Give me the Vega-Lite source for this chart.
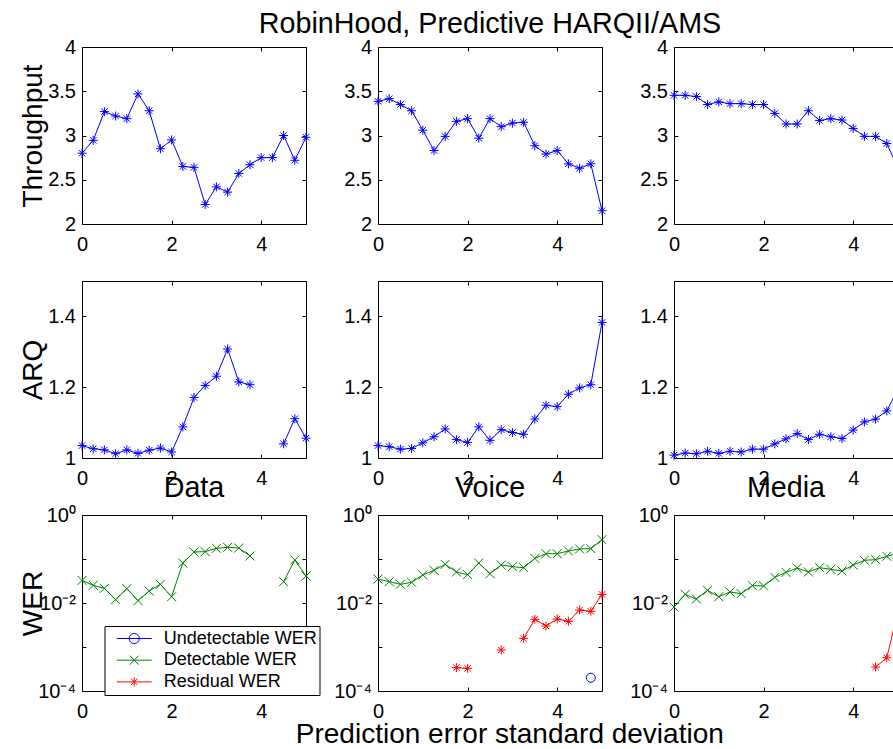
{
"$schema": "https://vega.github.io/schema/vega-lite/v6.json",
"background": "white",
"padding": {"left": 18, "top": 9, "right": 0, "bottom": 0},
"autosize": {"type": "pad"},
"datasets": {
"tp": [
{"panel":"Data","x":0,"y":2.8},{"panel":"Data","x":0.25,"y":2.945},{"panel":"Data","x":0.5,"y":3.27},{"panel":"Data","x":0.75,"y":3.22},{"panel":"Data","x":1,"y":3.19},{"panel":"Data","x":1.25,"y":3.47},{"panel":"Data","x":1.5,"y":3.28},{"panel":"Data","x":1.75,"y":2.85},{"panel":"Data","x":2,"y":2.95},{"panel":"Data","x":2.25,"y":2.65},{"panel":"Data","x":2.5,"y":2.64},{"panel":"Data","x":2.75,"y":2.22},{"panel":"Data","x":3,"y":2.42},{"panel":"Data","x":3.25,"y":2.36},{"panel":"Data","x":3.5,"y":2.57},{"panel":"Data","x":3.75,"y":2.67},{"panel":"Data","x":4,"y":2.75},{"panel":"Data","x":4.25,"y":2.75},{"panel":"Data","x":4.5,"y":3.0},{"panel":"Data","x":4.75,"y":2.72},{"panel":"Data","x":5,"y":2.98},
{"panel":"Voice","x":0,"y":3.386},{"panel":"Voice","x":0.25,"y":3.416},{"panel":"Voice","x":0.5,"y":3.35},{"panel":"Voice","x":0.75,"y":3.28},{"panel":"Voice","x":1,"y":3.06},{"panel":"Voice","x":1.25,"y":2.83},{"panel":"Voice","x":1.5,"y":2.99},{"panel":"Voice","x":1.75,"y":3.16},{"panel":"Voice","x":2,"y":3.19},{"panel":"Voice","x":2.25,"y":2.97},{"panel":"Voice","x":2.5,"y":3.19},{"panel":"Voice","x":2.75,"y":3.1},{"panel":"Voice","x":3,"y":3.14},{"panel":"Voice","x":3.25,"y":3.15},{"panel":"Voice","x":3.5,"y":2.885},{"panel":"Voice","x":3.75,"y":2.79},{"panel":"Voice","x":4,"y":2.83},{"panel":"Voice","x":4.25,"y":2.68},{"panel":"Voice","x":4.5,"y":2.63},{"panel":"Voice","x":4.75,"y":2.68},{"panel":"Voice","x":5,"y":2.15},
{"panel":"Media","x":0,"y":3.454},{"panel":"Media","x":0.25,"y":3.454},{"panel":"Media","x":0.5,"y":3.44},{"panel":"Media","x":0.75,"y":3.35},{"panel":"Media","x":1,"y":3.38},{"panel":"Media","x":1.25,"y":3.36},{"panel":"Media","x":1.5,"y":3.36},{"panel":"Media","x":1.75,"y":3.35},{"panel":"Media","x":2,"y":3.35},{"panel":"Media","x":2.25,"y":3.25},{"panel":"Media","x":2.5,"y":3.13},{"panel":"Media","x":2.75,"y":3.13},{"panel":"Media","x":3,"y":3.28},{"panel":"Media","x":3.25,"y":3.17},{"panel":"Media","x":3.5,"y":3.19},{"panel":"Media","x":3.75,"y":3.175},{"panel":"Media","x":4,"y":3.08},{"panel":"Media","x":4.25,"y":2.99},{"panel":"Media","x":4.5,"y":2.99},{"panel":"Media","x":4.75,"y":2.91},{"panel":"Media","x":5,"y":2.63}
],
"arq": [
{"panel":"Data","x":0,"y":1.035},{"panel":"Data","x":0.25,"y":1.026},{"panel":"Data","x":0.5,"y":1.023},{"panel":"Data","x":0.75,"y":1.012},{"panel":"Data","x":1,"y":1.023},{"panel":"Data","x":1.25,"y":1.013},{"panel":"Data","x":1.5,"y":1.022},{"panel":"Data","x":1.75,"y":1.028},{"panel":"Data","x":2,"y":1.017},{"panel":"Data","x":2.25,"y":1.088},{"panel":"Data","x":2.5,"y":1.171},{"panel":"Data","x":2.75,"y":1.205},{"panel":"Data","x":3,"y":1.231},{"panel":"Data","x":3.25,"y":1.308},{"panel":"Data","x":3.5,"y":1.215},{"panel":"Data","x":3.75,"y":1.207},{"panel":"Data","x":4,"y":null},{"panel":"Data","x":4.25,"y":null},{"panel":"Data","x":4.5,"y":1.04},{"panel":"Data","x":4.75,"y":1.111},{"panel":"Data","x":5,"y":1.056},
{"panel":"Voice","x":0,"y":1.035},{"panel":"Voice","x":0.25,"y":1.032},{"panel":"Voice","x":0.5,"y":1.025},{"panel":"Voice","x":0.75,"y":1.027},{"panel":"Voice","x":1,"y":1.043},{"panel":"Voice","x":1.25,"y":1.06},{"panel":"Voice","x":1.5,"y":1.082},{"panel":"Voice","x":1.75,"y":1.052},{"panel":"Voice","x":2,"y":1.044},{"panel":"Voice","x":2.25,"y":1.088},{"panel":"Voice","x":2.5,"y":1.05},{"panel":"Voice","x":2.75,"y":1.08},{"panel":"Voice","x":3,"y":1.072},{"panel":"Voice","x":3.25,"y":1.067},{"panel":"Voice","x":3.5,"y":1.11},{"panel":"Voice","x":3.75,"y":1.149},{"panel":"Voice","x":4,"y":1.145},{"panel":"Voice","x":4.25,"y":1.18},{"panel":"Voice","x":4.5,"y":1.198},{"panel":"Voice","x":4.75,"y":1.207},{"panel":"Voice","x":5,"y":1.383},
{"panel":"Media","x":0,"y":1.008},{"panel":"Media","x":0.25,"y":1.014},{"panel":"Media","x":0.5,"y":1.012},{"panel":"Media","x":0.75,"y":1.019},{"panel":"Media","x":1,"y":1.013},{"panel":"Media","x":1.25,"y":1.019},{"panel":"Media","x":1.5,"y":1.017},{"panel":"Media","x":1.75,"y":1.025},{"panel":"Media","x":2,"y":1.025},{"panel":"Media","x":2.25,"y":1.04},{"panel":"Media","x":2.5,"y":1.054},{"panel":"Media","x":2.75,"y":1.069},{"panel":"Media","x":3,"y":1.052},{"panel":"Media","x":3.25,"y":1.067},{"panel":"Media","x":3.5,"y":1.06},{"panel":"Media","x":3.75,"y":1.055},{"panel":"Media","x":4,"y":1.079},{"panel":"Media","x":4.25,"y":1.102},{"panel":"Media","x":4.5,"y":1.11},{"panel":"Media","x":4.75,"y":1.133},{"panel":"Media","x":5,"y":1.195}
],
"wer": [
{"panel":"Data","series":"Detectable WER","x":0,"y":0.0327},{"panel":"Data","series":"Detectable WER","x":0.25,"y":0.0252},{"panel":"Data","series":"Detectable WER","x":0.5,"y":0.0216},{"panel":"Data","series":"Detectable WER","x":0.75,"y":0.0119},{"panel":"Data","series":"Detectable WER","x":1,"y":0.0212},{"panel":"Data","series":"Detectable WER","x":1.25,"y":0.0113},{"panel":"Data","series":"Detectable WER","x":1.5,"y":0.0187},{"panel":"Data","series":"Detectable WER","x":1.75,"y":0.0266},{"panel":"Data","series":"Detectable WER","x":2,"y":0.0139},{"panel":"Data","series":"Detectable WER","x":2.25,"y":0.081},{"panel":"Data","series":"Detectable WER","x":2.5,"y":0.144},{"panel":"Data","series":"Detectable WER","x":2.75,"y":0.147},{"panel":"Data","series":"Detectable WER","x":3,"y":0.175},{"panel":"Data","series":"Detectable WER","x":3.25,"y":0.184},{"panel":"Data","series":"Detectable WER","x":3.5,"y":0.178},{"panel":"Data","series":"Detectable WER","x":3.75,"y":0.117},{"panel":"Data","series":"Detectable WER","x":4,"y":null},{"panel":"Data","series":"Detectable WER","x":4.25,"y":null},{"panel":"Data","series":"Detectable WER","x":4.5,"y":0.0305},{"panel":"Data","series":"Detectable WER","x":4.75,"y":0.095},{"panel":"Data","series":"Detectable WER","x":5,"y":0.041},
{"panel":"Voice","series":"Detectable WER","x":0,"y":0.0351},{"panel":"Voice","series":"Detectable WER","x":0.25,"y":0.0305},{"panel":"Voice","series":"Detectable WER","x":0.5,"y":0.0266},{"panel":"Voice","series":"Detectable WER","x":0.75,"y":0.0295},{"panel":"Voice","series":"Detectable WER","x":1,"y":0.0433},{"panel":"Voice","series":"Detectable WER","x":1.25,"y":0.0552},{"panel":"Voice","series":"Detectable WER","x":1.5,"y":0.0756},{"panel":"Voice","series":"Detectable WER","x":1.75,"y":0.0507},{"panel":"Voice","series":"Detectable WER","x":2,"y":0.0441},{"panel":"Voice","series":"Detectable WER","x":2.25,"y":0.081},{"panel":"Voice","series":"Detectable WER","x":2.5,"y":0.0464},{"panel":"Voice","series":"Detectable WER","x":2.75,"y":0.073},{"panel":"Voice","series":"Detectable WER","x":3,"y":0.067},{"panel":"Voice","series":"Detectable WER","x":3.25,"y":0.0635},{"panel":"Voice","series":"Detectable WER","x":3.5,"y":0.1035},{"panel":"Voice","series":"Detectable WER","x":3.75,"y":0.132},{"panel":"Voice","series":"Detectable WER","x":4,"y":0.132},{"panel":"Voice","series":"Detectable WER","x":4.25,"y":0.152},{"panel":"Voice","series":"Detectable WER","x":4.5,"y":0.169},{"panel":"Voice","series":"Detectable WER","x":4.75,"y":0.172},{"panel":"Voice","series":"Detectable WER","x":5,"y":0.275},
{"panel":"Voice","series":"Residual WER","x":1.75,"y":0.000339},{"panel":"Voice","series":"Residual WER","x":2,"y":0.000327},{"panel":"Voice","series":"Residual WER","x":2.25,"y":null},{"panel":"Voice","series":"Residual WER","x":2.75,"y":0.000855},{"panel":"Voice","series":"Residual WER","x":3,"y":null},{"panel":"Voice","series":"Residual WER","x":3.25,"y":0.00157},{"panel":"Voice","series":"Residual WER","x":3.5,"y":0.00425},{"panel":"Voice","series":"Residual WER","x":3.75,"y":0.003},{"panel":"Voice","series":"Residual WER","x":4,"y":0.00433},{"panel":"Voice","series":"Residual WER","x":4.25,"y":0.00383},{"panel":"Voice","series":"Residual WER","x":4.5,"y":0.00693},{"panel":"Voice","series":"Residual WER","x":4.75,"y":0.00647},{"panel":"Voice","series":"Residual WER","x":5,"y":0.0157},
{"panel":"Voice","series":"Undetectable WER","x":4.75,"y":0.0002},
{"panel":"Media","series":"Detectable WER","x":0,"y":0.0081},{"panel":"Media","series":"Detectable WER","x":0.25,"y":0.0157},{"panel":"Media","series":"Detectable WER","x":0.5,"y":0.0123},{"panel":"Media","series":"Detectable WER","x":0.75,"y":0.0194},{"panel":"Media","series":"Detectable WER","x":1,"y":0.0139},{"panel":"Media","series":"Detectable WER","x":1.25,"y":0.0178},{"panel":"Media","series":"Detectable WER","x":1.5,"y":0.0163},{"panel":"Media","series":"Detectable WER","x":1.75,"y":0.0248},{"panel":"Media","series":"Detectable WER","x":2,"y":0.0243},{"panel":"Media","series":"Detectable WER","x":2.25,"y":0.0383},{"panel":"Media","series":"Detectable WER","x":2.5,"y":0.0498},{"panel":"Media","series":"Detectable WER","x":2.75,"y":0.0624},{"panel":"Media","series":"Detectable WER","x":3,"y":0.0507},{"panel":"Media","series":"Detectable WER","x":3.25,"y":0.0635},{"panel":"Media","series":"Detectable WER","x":3.5,"y":0.0582},{"panel":"Media","series":"Detectable WER","x":3.75,"y":0.0533},{"panel":"Media","series":"Detectable WER","x":4,"y":0.073},{"panel":"Media","series":"Detectable WER","x":4.25,"y":0.0933},{"panel":"Media","series":"Detectable WER","x":4.5,"y":0.0966},{"panel":"Media","series":"Detectable WER","x":4.75,"y":0.115},{"panel":"Media","series":"Detectable WER","x":5,"y":0.135},
{"panel":"Media","series":"Residual WER","x":4.5,"y":0.00035},{"panel":"Media","series":"Residual WER","x":4.75,"y":0.00057},{"panel":"Media","series":"Residual WER","x":5,"y":0.0066}
]
},
"columns": 3,
"spacing": {"row": 57, "column": 72},
"bounds": "flush",
"concat": [
{"width": 224, "height": 177, "data": {"name": "tp"}, "transform": [{"filter": "datum.panel === 'Data'"}],
 "layer": [
  {"mark": {"type": "line", "color": "#0000ff", "strokeWidth": 1, "invalid": "break-paths-filter-domains"},
   "encoding": {"x": {"field": "x", "type": "quantitative", "scale": {"domain": [0, 5], "nice": false, "zero": false}, "axis": {"orient": "bottom", "values": [0, 2, 4], "format": "~g", "title": null}},
                "y": {"field": "y", "type": "quantitative", "scale": {"domain": [2, 4], "nice": false, "zero": false}, "axis": {"orient": "left", "values": [2, 2.5, 3, 3.5, 4], "format": "~g", "title": "Throughput", "titleX": -40.7, "titleBaseline": "alphabetic"}}}},
  {"mark": {"type": "point", "shape": "M-1,0L1,0M0,-1L0,1M-0.707,-0.707L0.707,0.707M-0.707,0.707L0.707,-0.707", "size": 81, "filled": false, "color": "#0000ff", "strokeWidth": 1, "opacity": 1},
   "encoding": {"x": {"field": "x", "type": "quantitative", "scale": {"domain": [0, 5], "nice": false, "zero": false}, "axis": {"orient": "top", "values": [0, 2, 4], "labels": false, "title": null}},
                "y": {"field": "y", "type": "quantitative", "scale": {"domain": [2, 4], "nice": false, "zero": false}, "axis": {"orient": "right", "values": [2, 2.5, 3, 3.5, 4], "labels": false, "title": null}}}}
 ],
 "resolve": {"axis": {"x": "independent", "y": "independent"}}},
{"width": 224, "height": 177, "data": {"name": "tp"}, "transform": [{"filter": "datum.panel === 'Voice'"}],
 "title": {"text": "RobinHood, Predictive HARQII/AMS", "offset": -1.5},
 "layer": [
  {"mark": {"type": "line", "color": "#0000ff", "strokeWidth": 1, "invalid": "break-paths-filter-domains"},
   "encoding": {"x": {"field": "x", "type": "quantitative", "scale": {"domain": [0, 5], "nice": false, "zero": false}, "axis": {"orient": "bottom", "values": [0, 2, 4], "format": "~g", "title": null}},
                "y": {"field": "y", "type": "quantitative", "scale": {"domain": [2, 4], "nice": false, "zero": false}, "axis": {"orient": "left", "values": [2, 2.5, 3, 3.5, 4], "format": "~g", "title": null}}}},
  {"mark": {"type": "point", "shape": "M-1,0L1,0M0,-1L0,1M-0.707,-0.707L0.707,0.707M-0.707,0.707L0.707,-0.707", "size": 81, "filled": false, "color": "#0000ff", "strokeWidth": 1, "opacity": 1},
   "encoding": {"x": {"field": "x", "type": "quantitative", "scale": {"domain": [0, 5], "nice": false, "zero": false}, "axis": {"orient": "top", "values": [0, 2, 4], "labels": false, "title": null}},
                "y": {"field": "y", "type": "quantitative", "scale": {"domain": [2, 4], "nice": false, "zero": false}, "axis": {"orient": "right", "values": [2, 2.5, 3, 3.5, 4], "labels": false, "title": null}}}}
 ],
 "resolve": {"axis": {"x": "independent", "y": "independent"}}},
{"width": 224, "height": 177, "data": {"name": "tp"}, "transform": [{"filter": "datum.panel === 'Media'"}],
 "layer": [
  {"mark": {"type": "line", "color": "#0000ff", "strokeWidth": 1, "invalid": "break-paths-filter-domains"},
   "encoding": {"x": {"field": "x", "type": "quantitative", "scale": {"domain": [0, 5], "nice": false, "zero": false}, "axis": {"orient": "bottom", "values": [0, 2, 4], "format": "~g", "title": null}},
                "y": {"field": "y", "type": "quantitative", "scale": {"domain": [2, 4], "nice": false, "zero": false}, "axis": {"orient": "left", "values": [2, 2.5, 3, 3.5, 4], "format": "~g", "title": null}}}},
  {"mark": {"type": "point", "shape": "M-1,0L1,0M0,-1L0,1M-0.707,-0.707L0.707,0.707M-0.707,0.707L0.707,-0.707", "size": 81, "filled": false, "color": "#0000ff", "strokeWidth": 1, "opacity": 1},
   "encoding": {"x": {"field": "x", "type": "quantitative", "scale": {"domain": [0, 5], "nice": false, "zero": false}, "axis": {"orient": "top", "values": [0, 2, 4], "labels": false, "title": null}},
                "y": {"field": "y", "type": "quantitative", "scale": {"domain": [2, 4], "nice": false, "zero": false}, "axis": {"orient": "right", "values": [2, 2.5, 3, 3.5, 4], "labels": false, "title": null}}}}
 ],
 "resolve": {"axis": {"x": "independent", "y": "independent"}}},
{"width": 224, "height": 177, "data": {"name": "arq"}, "transform": [{"filter": "datum.panel === 'Data'"}],
 "layer": [
  {"mark": {"type": "line", "color": "#0000ff", "strokeWidth": 1, "invalid": "break-paths-filter-domains"},
   "encoding": {"x": {"field": "x", "type": "quantitative", "scale": {"domain": [0, 5], "nice": false, "zero": false}, "axis": {"orient": "bottom", "values": [0, 2, 4], "format": "~g", "title": null}},
                "y": {"field": "y", "type": "quantitative", "scale": {"domain": [1, 1.5], "nice": false, "zero": false}, "axis": {"orient": "left", "values": [1, 1.2, 1.4], "format": "~g", "title": "ARQ", "titleX": -40.7, "titleBaseline": "alphabetic"}}}},
  {"mark": {"type": "point", "shape": "M-1,0L1,0M0,-1L0,1M-0.707,-0.707L0.707,0.707M-0.707,0.707L0.707,-0.707", "size": 81, "filled": false, "color": "#0000ff", "strokeWidth": 1, "opacity": 1},
   "encoding": {"x": {"field": "x", "type": "quantitative", "scale": {"domain": [0, 5], "nice": false, "zero": false}, "axis": {"orient": "top", "values": [0, 2, 4], "labels": false, "title": null}},
                "y": {"field": "y", "type": "quantitative", "scale": {"domain": [1, 1.5], "nice": false, "zero": false}, "axis": {"orient": "right", "values": [1, 1.2, 1.4], "labels": false, "title": null}}}}
 ],
 "resolve": {"axis": {"x": "independent", "y": "independent"}}},
{"width": 224, "height": 177, "data": {"name": "arq"}, "transform": [{"filter": "datum.panel === 'Voice'"}],
 "layer": [
  {"mark": {"type": "line", "color": "#0000ff", "strokeWidth": 1, "invalid": "break-paths-filter-domains"},
   "encoding": {"x": {"field": "x", "type": "quantitative", "scale": {"domain": [0, 5], "nice": false, "zero": false}, "axis": {"orient": "bottom", "values": [0, 2, 4], "format": "~g", "title": null}},
                "y": {"field": "y", "type": "quantitative", "scale": {"domain": [1, 1.5], "nice": false, "zero": false}, "axis": {"orient": "left", "values": [1, 1.2, 1.4], "format": "~g", "title": null}}}},
  {"mark": {"type": "point", "shape": "M-1,0L1,0M0,-1L0,1M-0.707,-0.707L0.707,0.707M-0.707,0.707L0.707,-0.707", "size": 81, "filled": false, "color": "#0000ff", "strokeWidth": 1, "opacity": 1},
   "encoding": {"x": {"field": "x", "type": "quantitative", "scale": {"domain": [0, 5], "nice": false, "zero": false}, "axis": {"orient": "top", "values": [0, 2, 4], "labels": false, "title": null}},
                "y": {"field": "y", "type": "quantitative", "scale": {"domain": [1, 1.5], "nice": false, "zero": false}, "axis": {"orient": "right", "values": [1, 1.2, 1.4], "labels": false, "title": null}}}}
 ],
 "resolve": {"axis": {"x": "independent", "y": "independent"}}},
{"width": 224, "height": 177, "data": {"name": "arq"}, "transform": [{"filter": "datum.panel === 'Media'"}],
 "layer": [
  {"mark": {"type": "line", "color": "#0000ff", "strokeWidth": 1, "invalid": "break-paths-filter-domains"},
   "encoding": {"x": {"field": "x", "type": "quantitative", "scale": {"domain": [0, 5], "nice": false, "zero": false}, "axis": {"orient": "bottom", "values": [0, 2, 4], "format": "~g", "title": null}},
                "y": {"field": "y", "type": "quantitative", "scale": {"domain": [1, 1.5], "nice": false, "zero": false}, "axis": {"orient": "left", "values": [1, 1.2, 1.4], "format": "~g", "title": null}}}},
  {"mark": {"type": "point", "shape": "M-1,0L1,0M0,-1L0,1M-0.707,-0.707L0.707,0.707M-0.707,0.707L0.707,-0.707", "size": 81, "filled": false, "color": "#0000ff", "strokeWidth": 1, "opacity": 1},
   "encoding": {"x": {"field": "x", "type": "quantitative", "scale": {"domain": [0, 5], "nice": false, "zero": false}, "axis": {"orient": "top", "values": [0, 2, 4], "labels": false, "title": null}},
                "y": {"field": "y", "type": "quantitative", "scale": {"domain": [1, 1.5], "nice": false, "zero": false}, "axis": {"orient": "right", "values": [1, 1.2, 1.4], "labels": false, "title": null}}}}
 ],
 "resolve": {"axis": {"x": "independent", "y": "independent"}}},
{"width": 224, "height": 176, "data": {"name": "wer"}, "transform": [{"filter": "datum.panel === 'Data'"}],
 "title": {"text": "Data", "offset": 2.1},
 "layer": [
  {"mark": {"type": "line", "strokeWidth": 1, "invalid": "break-paths-filter-domains"},
   "encoding": {"x": {"field": "x", "type": "quantitative", "scale": {"domain": [0, 5], "nice": false, "zero": false}, "axis": {"orient": "bottom", "values": [0, 2, 4], "format": "~g", "title": null}},
                "y": {"field": "y", "type": "quantitative", "scale": {"type": "log", "domain": [0.0001, 1], "nice": false}, "axis": {"orient": "left", "values": [0.0001, 0.001, 0.01, 0.1, 1], "labelExpr": "datum.value > 0.5 ? '10⁰' : (datum.value > 0.005 && datum.value < 0.02) ? '10⁻²' : datum.value < 0.0002 ? '10⁻⁴' : ''", "title": "WER", "titleX": -40.7, "titleBaseline": "alphabetic"}},
                "color": {"field": "series", "type": "nominal", "scale": {"domain": ["Undetectable WER", "Detectable WER", "Residual WER"], "range": ["#0000ff", "#008000", "#ff0000"]}, "legend": null}}},
  {"mark": {"type": "point", "size": 81, "filled": false, "strokeWidth": 1, "opacity": 1},
   "encoding": {"x": {"field": "x", "type": "quantitative", "scale": {"domain": [0, 5], "nice": false, "zero": false}, "axis": {"orient": "top", "values": [0, 2, 4], "labels": false, "title": null}},
                "y": {"field": "y", "type": "quantitative", "scale": {"type": "log", "domain": [0.0001, 1], "nice": false}, "axis": {"orient": "right", "values": [0.0001, 0.001, 0.01, 0.1, 1], "labels": false, "title": null}},
                "color": {"field": "series", "type": "nominal", "scale": {"domain": ["Undetectable WER", "Detectable WER", "Residual WER"], "range": ["#0000ff", "#008000", "#ff0000"]}, "legend": null},
                "shape": {"field": "series", "type": "nominal", "scale": {"domain": ["Undetectable WER", "Detectable WER", "Residual WER"], "range": ["circle", "M-1,-1L1,1M-1,1L1,-1", "M-1,0L1,0M0,-1L0,1M-0.707,-0.707L0.707,0.707M-0.707,0.707L0.707,-0.707"]}, "legend": null}}},
  {"mark": {"type": "point", "filled": false, "strokeWidth": 1, "opacity": 0},
   "encoding": {"x": {"field": "x", "type": "quantitative", "scale": {"domain": [0, 5], "nice": false, "zero": false}, "axis": null},
                "y": {"field": "y", "type": "quantitative", "scale": {"type": "log", "domain": [0.0001, 1], "nice": false}, "axis": null},
                "color": {"field": "series", "type": "nominal", "scale": {"domain": ["Undetectable WER", "Detectable WER", "Residual WER"], "range": ["#0000ff", "#008000", "#ff0000"]},
                          "legend": {"title": null, "orient": "none", "legendX": 22.5, "legendY": 111, "padding": 2, "symbolOffset": 18.2, "labelOffset": 20, "clipHeight": 21, "rowPadding": 0.7, "symbolSize": 324, "symbolStrokeWidth": 1, "symbolOpacity": 1, "labelFontSize": 18, "labelFont": "Liberation Sans", "labelColor": "black", "labelLimit": 400, "strokeColor": "black", "fillColor": "white"}},
                "shape": {"field": "series", "type": "nominal", "scale": {"domain": ["Undetectable WER", "Detectable WER", "Residual WER"], "range": ["M-1.944,0L1.944,0M0.567,0A0.567,0.567,0,1,1,-0.567,0A0.567,0.567,0,1,1,0.567,0", "M-1.944,0L1.944,0M-0.5,-0.5L0.5,0.5M-0.5,0.5L0.5,-0.5", "M-1.944,0L1.944,0M0,-0.5L0,0.5M-0.354,-0.354L0.354,0.354M-0.354,0.354L0.354,-0.354"]},
                          "legend": {"title": null, "orient": "none", "legendX": 22.5, "legendY": 111, "padding": 2, "symbolOffset": 18.2, "labelOffset": 20, "clipHeight": 21, "rowPadding": 0.7, "symbolSize": 324, "symbolStrokeWidth": 1, "symbolOpacity": 1, "labelFontSize": 18, "labelFont": "Liberation Sans", "labelColor": "black", "labelLimit": 400, "strokeColor": "black", "fillColor": "white"}}}}
 ],
 "resolve": {"axis": {"x": "independent", "y": "independent"}, "scale": {"color": "independent", "shape": "independent"}}},
{"width": 224, "height": 176, "data": {"name": "wer"}, "transform": [{"filter": "datum.panel === 'Voice'"}],
 "title": {"text": "Voice", "offset": 2.1},
 "layer": [
  {"mark": {"type": "line", "strokeWidth": 1, "invalid": "break-paths-filter-domains"},
   "encoding": {"x": {"field": "x", "type": "quantitative", "scale": {"domain": [0, 5], "nice": false, "zero": false}, "axis": {"orient": "bottom", "values": [0, 2, 4], "format": "~g", "title": "Prediction error standard deviation", "titleX": 131.3, "titleY": 51, "titleBaseline": "alphabetic"}},
                "y": {"field": "y", "type": "quantitative", "scale": {"type": "log", "domain": [0.0001, 1], "nice": false}, "axis": {"orient": "left", "values": [0.0001, 0.001, 0.01, 0.1, 1], "labelExpr": "datum.value > 0.5 ? '10⁰' : (datum.value > 0.005 && datum.value < 0.02) ? '10⁻²' : datum.value < 0.0002 ? '10⁻⁴' : ''", "title": null}},
                "color": {"field": "series", "type": "nominal", "scale": {"domain": ["Undetectable WER", "Detectable WER", "Residual WER"], "range": ["#0000ff", "#008000", "#ff0000"]}, "legend": null}}},
  {"mark": {"type": "point", "size": 81, "filled": false, "strokeWidth": 1, "opacity": 1},
   "encoding": {"x": {"field": "x", "type": "quantitative", "scale": {"domain": [0, 5], "nice": false, "zero": false}, "axis": {"orient": "top", "values": [0, 2, 4], "labels": false, "title": null}},
                "y": {"field": "y", "type": "quantitative", "scale": {"type": "log", "domain": [0.0001, 1], "nice": false}, "axis": {"orient": "right", "values": [0.0001, 0.001, 0.01, 0.1, 1], "labels": false, "title": null}},
                "color": {"field": "series", "type": "nominal", "scale": {"domain": ["Undetectable WER", "Detectable WER", "Residual WER"], "range": ["#0000ff", "#008000", "#ff0000"]}, "legend": null},
                "shape": {"field": "series", "type": "nominal", "scale": {"domain": ["Undetectable WER", "Detectable WER", "Residual WER"], "range": ["circle", "M-1,-1L1,1M-1,1L1,-1", "M-1,0L1,0M0,-1L0,1M-0.707,-0.707L0.707,0.707M-0.707,0.707L0.707,-0.707"]}, "legend": null}}}
 ],
 "resolve": {"axis": {"x": "independent", "y": "independent"}}},
{"width": 224, "height": 176, "data": {"name": "wer"}, "transform": [{"filter": "datum.panel === 'Media'"}],
 "title": {"text": "Media", "offset": 2.1},
 "layer": [
  {"mark": {"type": "line", "strokeWidth": 1, "invalid": "break-paths-filter-domains"},
   "encoding": {"x": {"field": "x", "type": "quantitative", "scale": {"domain": [0, 5], "nice": false, "zero": false}, "axis": {"orient": "bottom", "values": [0, 2, 4], "format": "~g", "title": null}},
                "y": {"field": "y", "type": "quantitative", "scale": {"type": "log", "domain": [0.0001, 1], "nice": false}, "axis": {"orient": "left", "values": [0.0001, 0.001, 0.01, 0.1, 1], "labelExpr": "datum.value > 0.5 ? '10⁰' : (datum.value > 0.005 && datum.value < 0.02) ? '10⁻²' : datum.value < 0.0002 ? '10⁻⁴' : ''", "title": null}},
                "color": {"field": "series", "type": "nominal", "scale": {"domain": ["Undetectable WER", "Detectable WER", "Residual WER"], "range": ["#0000ff", "#008000", "#ff0000"]}, "legend": null}}},
  {"mark": {"type": "point", "size": 81, "filled": false, "strokeWidth": 1, "opacity": 1},
   "encoding": {"x": {"field": "x", "type": "quantitative", "scale": {"domain": [0, 5], "nice": false, "zero": false}, "axis": {"orient": "top", "values": [0, 2, 4], "labels": false, "title": null}},
                "y": {"field": "y", "type": "quantitative", "scale": {"type": "log", "domain": [0.0001, 1], "nice": false}, "axis": {"orient": "right", "values": [0.0001, 0.001, 0.01, 0.1, 1], "labels": false, "title": null}},
                "color": {"field": "series", "type": "nominal", "scale": {"domain": ["Undetectable WER", "Detectable WER", "Residual WER"], "range": ["#0000ff", "#008000", "#ff0000"]}, "legend": null},
                "shape": {"field": "series", "type": "nominal", "scale": {"domain": ["Undetectable WER", "Detectable WER", "Residual WER"], "range": ["circle", "M-1,-1L1,1M-1,1L1,-1", "M-1,0L1,0M0,-1L0,1M-0.707,-0.707L0.707,0.707M-0.707,0.707L0.707,-0.707"]}, "legend": null}}}
 ],
 "resolve": {"axis": {"x": "independent", "y": "independent"}}}
],
"config": {
 "font": "Liberation Sans",
 "view": {"stroke": "black", "strokeWidth": 1},
 "axis": {"domain": false, "grid": false, "ticks": true, "tickColor": "black", "tickWidth": 1, "tickSize": -4, "labelColor": "black", "labelFont": "Liberation Sans", "labelFontSize": 20, "labelFlush": false, "labelOverlap": false, "titleFont": "Liberation Sans", "titleFontSize": 28, "titleFontWeight": "normal", "titleColor": "black"},
 "axisBottom": {"labelPadding": 14},
 "axisLeft": {"labelPadding": 10.5},
 "title": {"font": "Liberation Sans", "fontSize": 28.7, "fontWeight": "normal", "color": "black", "baseline": "alphabetic", "anchor": "middle"}
}
}
